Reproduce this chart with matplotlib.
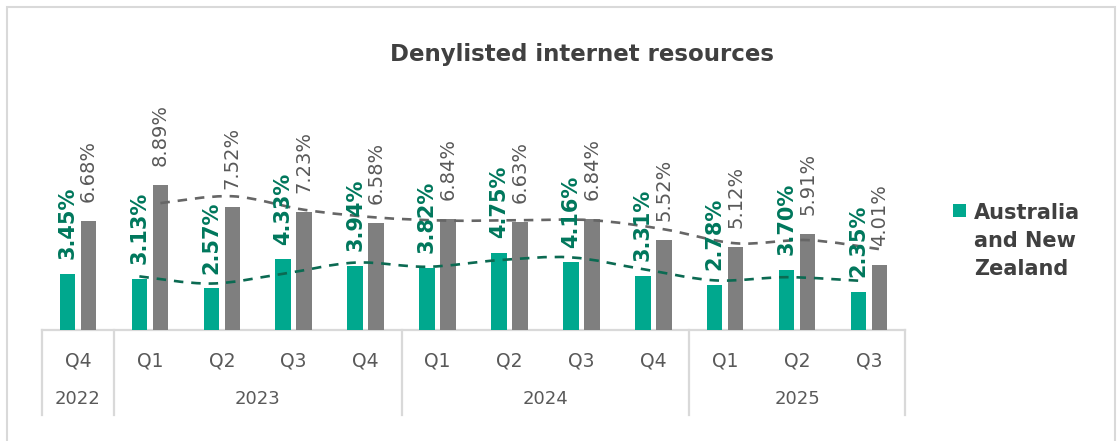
import numpy as np
import matplotlib.pyplot as plt
from matplotlib.patches import Rectangle, PathPatch
from matplotlib.path import Path

# data
quarters = ['Q4', 'Q1', 'Q2', 'Q3', 'Q4', 'Q1', 'Q2', 'Q3', 'Q4', 'Q1', 'Q2', 'Q3']
years = ['2022', '2023', '2024', '2025']
year_spans = [(0, 0), (1, 4), (5, 8), (9, 11)]
anz = [3.45, 3.13, 2.57, 4.33, 3.94, 3.82, 4.75, 4.16, 3.31, 2.78, 3.70, 2.35]
other = [6.68, 8.89, 7.52, 7.23, 6.58, 6.84, 6.63, 6.84, 5.52, 5.12, 5.91, 4.01]

GREEN = '#00A88E'
GREEN_DARK = '#00775C'
GREY = '#7F7F7F'
TXT = '#595959'
LINE = '#D9D9D9'

W, H = 1120, 441
fig = plt.figure(figsize=(W / 100, H / 100), dpi=100)
ax = fig.add_axes([42 / W, (H - 330) / H, 863 / W, 270 / H])

x = np.arange(len(quarters))
bw = 0.215
off = 0.146
ax.bar(x - off, anz, bw, color=GREEN, zorder=2)
ax.bar(x + off, other, bw, color=GREY, zorder=2)

for xi, v in zip(x, anz):
    ax.annotate(f'{v:.2f}%', (xi - off, v), xytext=(0, 10.5), textcoords='offset points',
                rotation=90, ha='center', va='bottom', fontsize=15, fontweight='bold',
                color=GREEN_DARK, zorder=4)
for xi, v in zip(x, other):
    ax.annotate(f'{v:.2f}%', (xi + off, v), xytext=(0, 13.5), textcoords='offset points',
                rotation=90, ha='center', va='bottom', fontsize=14,
                color=TXT, zorder=4)


def smooth_path(px, py):
    # catmull-rom style bezier through the points (like Excel smoothed lines)
    pts = np.column_stack([px, py])
    verts = [pts[0]]
    codes = [Path.MOVETO]
    n = len(pts)
    for i in range(n - 1):
        p0 = pts[max(i - 1, 0)]
        p1 = pts[i]
        p2 = pts[i + 1]
        p3 = pts[min(i + 2, n - 1)]
        verts += [p1 + (p2 - p0) / 6, p2 - (p3 - p1) / 6, p2]
        codes += [Path.CURVE4] * 3
    return Path(verts, codes)


# 2-period moving average trendlines
for vals, dx, col in [(anz, -off, '#0B6A52'), (other, off, '#666666')]:
    v = np.array(vals)
    ma = (v[1:] + v[:-1]) / 2
    p = smooth_path(x[1:] + dx, ma)
    ax.add_patch(PathPatch(p, fill=False, edgecolor=col, lw=1.9,
                           linestyle=(0, (3.6, 3.0)), zorder=3))

ax.set_xlim(-0.5, 11.5)
ax.set_ylim(0, 270 / 16.3)
ax.axis('off')

# multi-level category axis
ax.plot([-0.5, 11.5], [0, 0], color=LINE, lw=1.6, clip_on=False, zorder=1)
trans = ax.get_xaxis_transform()
y_q = -31 / 270
y_y = -69 / 270
y_end = -85 / 270
for xi, q in zip(x, quarters):
    ax.text(xi, y_q, q, transform=trans, ha='center', va='center', fontsize=13.5, color=TXT)
for (a, b), yr in zip(year_spans, years):
    ax.text((a + b) / 2, y_y, yr, transform=trans, ha='center', va='center', fontsize=13, color=TXT)
for bnd in [-0.5, 0.5, 4.5, 8.5, 11.5]:
    ax.plot([bnd, bnd], [0, y_end], transform=trans, color=LINE, lw=1.6, clip_on=False)

fig.text(582 / W, 1 - 54 / H, 'Denylisted internet resources', ha='center', va='center',
         fontsize=16.5, fontweight='bold', color='#404040')

# legend
fig.patches.append(Rectangle((953 / W, 1 - 217 / H), 13 / W, 13 / H, transform=fig.transFigure,
                             facecolor=GREEN, edgecolor='none'))
fig.text(974 / W, 1 - 241 / H, 'Australia\nand New\nZealand', ha='left', va='center',
         fontsize=15, fontweight='bold', color='#404040', linespacing=1.5)

# outer frame
fig.patches.append(Rectangle((7 / W, -0.1), 1108 / W, 1.1 - 7 / H, transform=fig.transFigure,
                             fill=False, edgecolor=LINE, lw=1.5))

fig.savefig('out.png', dpi=100)
